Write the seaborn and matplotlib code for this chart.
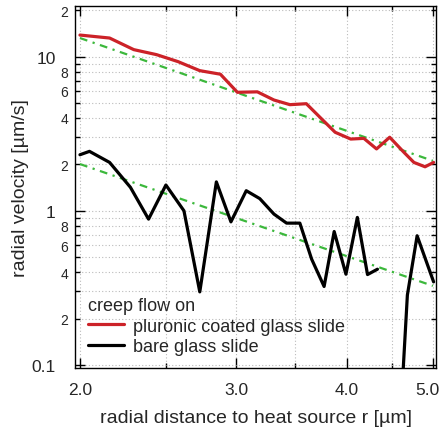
import numpy as np
import pandas as pd
import matplotlib
matplotlib.use("Agg")
import matplotlib.pyplot as plt
import matplotlib.transforms as mtransforms
import seaborn as sns

# radial distance r [um] and radial velocity [um/s]
r_coated = [2.00, 2.16, 2.30, 2.44, 2.58, 2.73, 2.88, 3.01, 3.17, 3.31, 3.45,
            3.60, 3.73, 3.88, 4.04, 4.18, 4.32, 4.47, 4.64, 4.76, 4.90, 5.01]
v_coated = [13.8, 13.2, 11.1, 10.3, 9.28, 8.11, 7.69, 5.87, 5.91, 5.23, 4.88,
            4.95, 4.04, 3.23, 2.92, 2.95, 2.52, 3.00, 2.39, 2.06, 1.93, 2.06]

r_bare = [2.00, 2.05, 2.16, 2.28, 2.39, 2.50, 2.62, 2.73, 2.85, 2.96, 3.08,
          3.19, 3.31, 3.42, 3.54, 3.65, 3.77, 3.87, 3.99, 4.11, 4.22, 4.33,
          4.45, 4.57, 4.68, 4.80, 5.01]
v_bare = [2.31, 2.43, 2.06, 1.42, 0.883, 1.47, 1.00, 0.298, 1.54, 0.848, 1.35,
          1.20, 0.952, 0.832, 0.832, 0.486, 0.323, 0.734, 0.388, 0.906, 0.386, 0.418,
          np.nan, 0.025, 0.284, 0.689, 0.346]

# power-law fits (straight on log-log), end points
r_fit = [2.0, 5.0]
v_fit_coated = [13.2, 2.11]
v_fit_bare = [2.01, 0.326]

legend_title = "creep flow on"
label_coated = "pluronic coated glass slide"
label_bare = "bare glass slide"

sns.set_style("ticks")
plt.rcParams["font.family"] = ["Liberation Sans", "DejaVu Sans"]

fig = plt.figure(figsize=(4.43, 4.35), dpi=100)
ax = fig.add_axes([0.170, 0.1517, 0.814, 0.8315])
ax.set_xscale("log")
ax.set_yscale("log")

green = "#3cb83c"
fit_ls = (0, (3.5, 2.5, 1, 2.5))
sns.lineplot(x=r_fit, y=v_fit_coated, ax=ax, color=green, lw=1.6,
             linestyle=fit_ls, estimator=None, sort=False)
sns.lineplot(x=r_fit, y=v_fit_bare, ax=ax, color=green, lw=1.6,
             linestyle=fit_ls, estimator=None, sort=False)

sns.lineplot(x=r_coated, y=v_coated, ax=ax, color="#cc2228", lw=2.3,
             estimator=None, sort=False, label=label_coated)

# bare data has a gap (missing values), draw it as separate pieces
bare = pd.DataFrame({"r": r_bare, "v": v_bare})
bare["seg"] = bare["v"].isna().cumsum()
bare = bare.dropna()
for i, (seg, part) in enumerate(bare.groupby("seg")):
    sns.lineplot(data=part, x="r", y="v", ax=ax, color="black", lw=2.3,
                 estimator=None, sort=False,
                 label=label_bare if i == 0 else None)

ax.set_xlim(1.976, 5.04)
ax.set_ylim(0.0956, 21.2)

# x ticks
ax.set_xticks([2, 3, 4, 5])
ax.set_xticklabels(["2.0", "3.0", "4.0", "5.0"], fontsize=12.5)
ax.set_xticks([2.5, 3.5, 4.5], minor=True)
ax.set_xticklabels(["", "", ""], minor=True)

# y ticks
ax.set_yticks([0.1, 1, 10])
ax.set_yticklabels(["0.1", "1", "10"], fontsize=12.5)
y_minor = [m * d for d in (0.1, 1, 10) for m in range(2, 10)]
y_minor = [y for y in y_minor if y <= 21]
y_minor_lab = []
for y in y_minor:
    m = int(round(y / 10 ** np.floor(np.log10(y) + 1e-9)))
    y_minor_lab.append(str(m) if m in (2, 4, 6, 8) else "")
ax.set_yticks(y_minor, minor=True)
ax.set_yticklabels(y_minor_lab, minor=True, fontsize=10)

ax.tick_params(which="both", direction="in", top=True, right=True,
               color="black", width=1.0)
ax.tick_params(which="major", length=7)
ax.tick_params(which="minor", length=3.5)
ax.tick_params(axis="y", which="major", pad=14)
ax.tick_params(axis="y", which="minor", pad=5)
ax.tick_params(axis="x", which="both", pad=10)

# last x label sits at the right edge, nudge it in a bit
last = ax.xaxis.get_major_ticks()[-1].label1
last.set_transform(last.get_transform() +
                   mtransforms.ScaledTranslation(-5 / 100, 0, fig.dpi_scale_trans))

ax.grid(True, which="both", linestyle=(0, (1, 2)), color="#bbbbbb", lw=0.8)
for s in ax.spines.values():
    s.set_color("black")
    s.set_linewidth(1.0)

ax.set_xlabel("radial distance to heat source r [µm]", fontsize=14, labelpad=9)
ax.set_ylabel("radial velocity [µm/s]", fontsize=14, labelpad=2)

leg = ax.legend(title=legend_title, loc="lower left", bbox_to_anchor=(0.0, 0.0),
                frameon=False, fontsize=13, title_fontsize=13,
                handlelength=2.0, handletextpad=0.5, labelspacing=0.2,
                alignment="left", borderaxespad=0.3)
for line in leg.get_lines():
    line.set_linewidth(2.3)

fig.savefig("out.png", dpi=100)
